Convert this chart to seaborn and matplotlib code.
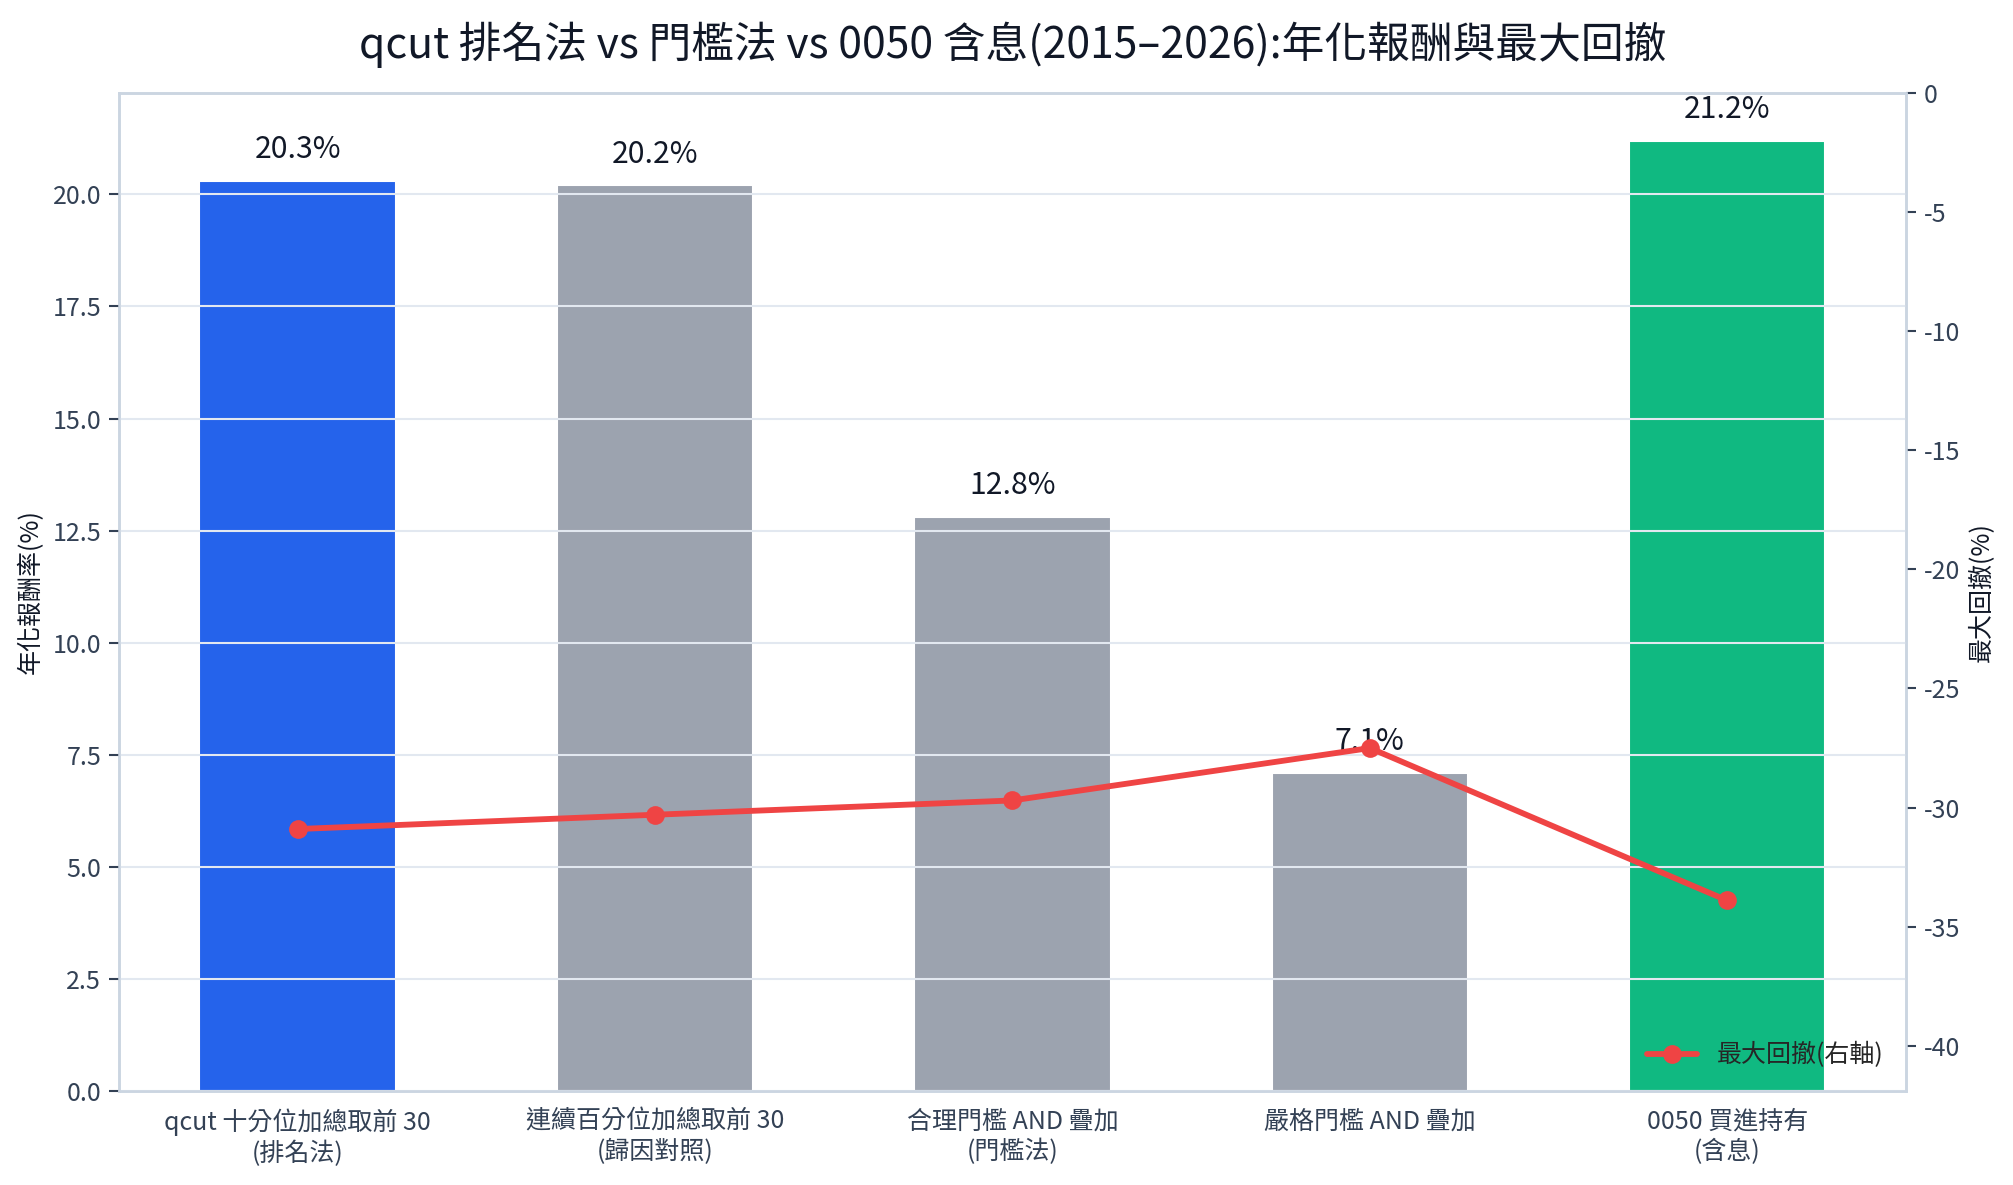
import numpy as np
import pandas as pd
import matplotlib
matplotlib.use("Agg")
import matplotlib.pyplot as plt
import seaborn as sns

# ---- data ----
categories = [
    "qcut 十分位加總取前 30\n(排名法)",
    "連續百分位加總取前 30\n(歸因對照)",
    "合理門檻 AND 疊加\n(門檻法)",
    "嚴格門檻 AND 疊加",
    "0050 買進持有\n(含息)",
]
annual_return = [20.3, 20.2, 12.8, 7.1, 21.2]
max_drawdown = [-30.9, -30.3, -29.7, -27.5, -33.9]
bar_colors = ["#2563eb", "#9ca3af", "#9ca3af", "#9ca3af", "#10b981"]

title = "qcut 排名法 vs 門檻法 vs 0050 含息(2015–2026):年化報酬與最大回撤"

sns.set_theme(style="white")
FONT = ["Noto Sans CJK TC", "DejaVu Sans"]
plt.rcParams["font.family"] = FONT
plt.rcParams["axes.unicode_minus"] = False

TICK = "#334155"
SPINE = "#cbd5e1"
GRID = "#e2e8f0"
TXT = "#111827"

fig = plt.figure(figsize=(13.42, 7.9), dpi=150)
ax = fig.add_axes([0.0591, 0.0793, 0.8877, 0.8422])

df = pd.DataFrame({"cat": categories, "ret": annual_return})
sns.barplot(data=df, x="cat", y="ret", hue="cat", palette=bar_colors,
            legend=False, width=0.55, ax=ax, saturation=1)
ax.set_xlim(-0.5, len(categories) - 0.5)
ax.set_ylim(0, max(annual_return) * 1.05)
ax.set_xlabel("")
ax.set_ylabel("年化報酬率(%)", fontsize=12, color=TXT)
ax.yaxis.grid(True, color=GRID, linewidth=1.0)
ax.set_axisbelow(False)
ax.tick_params(axis="both", colors=TICK, labelsize=12, length=5, width=1, direction="out")
for s in ax.spines.values():
    s.set_color(SPINE)
    s.set_linewidth(1.2)

for i, v in enumerate(annual_return):
    ax.text(i, v + 0.35, f"{v:.1f}%", ha="center", va="bottom", fontsize=14.5, color=TXT)

ax2 = ax.twinx()
sns.lineplot(x=np.arange(len(categories)), y=max_drawdown, ax=ax2, color="#ef4444",
             marker="o", markersize=9, markeredgewidth=0, linewidth=2.8,
             label="最大回撤(右軸)")
ax2.set_ylim(-41.9, 0)
ax2.set_ylabel("最大回撤(%)", fontsize=12, color=TXT)
ax2.grid(False)
ax2.tick_params(axis="y", colors=TICK, labelsize=12, length=5, width=1, direction="out")
for s in ax2.spines.values():
    s.set_color(SPINE)
    s.set_linewidth(1.2)
ax2.legend(loc="lower right", frameon=False, fontsize=12)

ax.set_title(title, fontsize=20.5, color=TXT, pad=17)

fig.savefig("out.png", dpi=150)
